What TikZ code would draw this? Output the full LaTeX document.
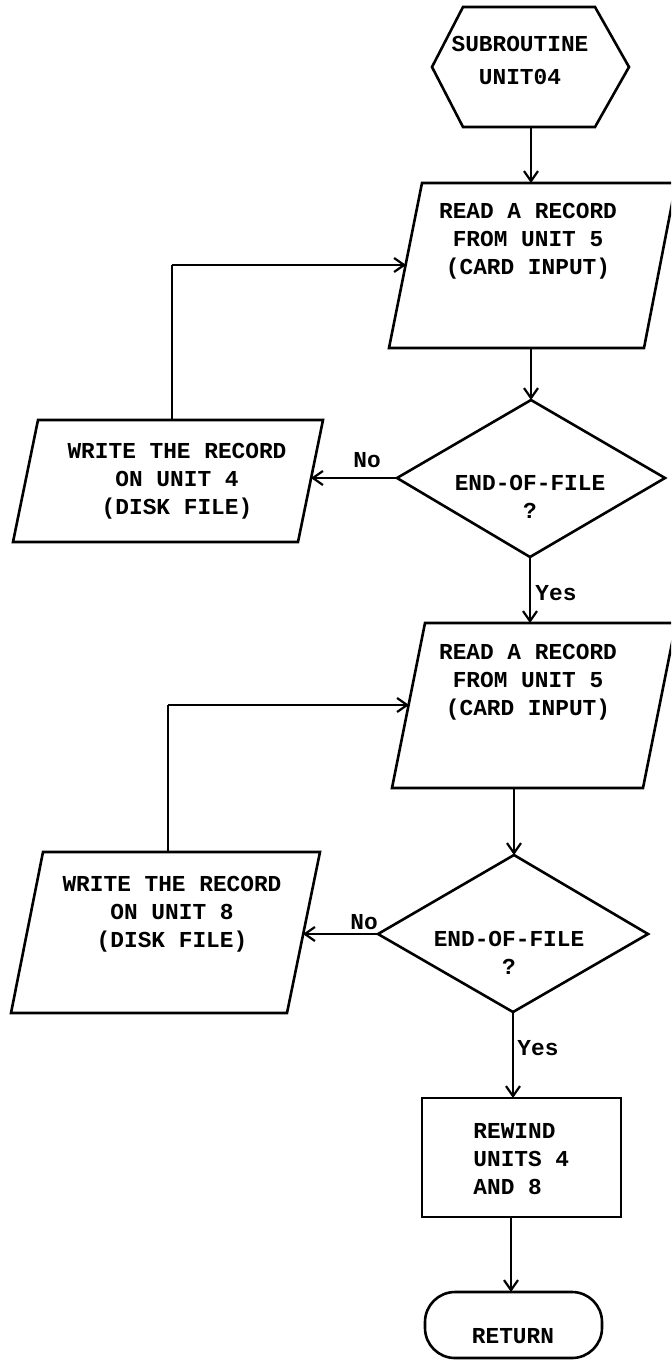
\documentclass[tikz,border=0pt]{standalone}
\usepackage{fontspec}
\setmonofont{Liberation Mono}
\usetikzlibrary{arrows.meta}
\tikzset{
  shp/.style={line width=1.3pt, line join=miter},
  conn/.style={line width=1.1pt, -{Straight Barb[length=5pt,width=7pt,line width=1.1pt]}},
  plainline/.style={line width=1.1pt},
  txt/.style={font=\ttfamily\bfseries\fontsize{11.4}{14}\selectfont, align=center, inner sep=0pt},
  lbl/.style={font=\ttfamily\bfseries\fontsize{11.4}{13}\selectfont, inner sep=0pt},
}
\begin{document}
\begin{tikzpicture}[x=0.5pt,y=-0.5pt]
\useasboundingbox (0,0) rectangle (671,1360);
\clip (0,0) rectangle (671,1360);

% ---- start hexagon
\draw[shp] (463,7) -- (595,7) -- (629,67) -- (595,127) -- (463,127) -- (432,67) -- cycle;
\coordinate (hexB) at (531,127);
\node[txt, font=\ttfamily\bfseries\fontsize{11.4}{16.5}\selectfont] (start) at (520,60) {SUBROUTINE\\UNIT04};

% ---- read box 1
\draw[shp] (422,183) -- (676,183) -- (644,348) -- (389,348) -- cycle;
\coordinate (r1T) at (531,183);
\coordinate (r1B) at (531,348);
\coordinate (r1L) at (406,265);
\node[txt] (read1) at (528,241) {READ A RECORD\\FROM UNIT 5\\(CARD INPUT)};

% ---- decision 1
\draw[shp] (531,400) -- (665,478) -- (530,557) -- (397,478) -- cycle;
\coordinate (d1T) at (531,400);
\coordinate (d1B) at (530,557);
\coordinate (d1L) at (397,478);
\node[txt] (eof1) at (530,497) {END-OF-FILE\\?};

% ---- write box 1
\draw[shp] (38,420) -- (323,420) -- (298,542) -- (13,542) -- cycle;
\coordinate (w1T) at (172,420);
\coordinate (w1R) at (311,478);
\coordinate (loop1) at (172,265);
\node[txt] (write1) at (177,481) {WRITE THE RECORD\\ON UNIT 4\\(DISK FILE)};

% ---- read box 2
\draw[shp] (425,623) -- (676,623) -- (643,788) -- (392,788) -- cycle;
\coordinate (r2T) at (530,623);
\coordinate (r2B) at (514,788);
\coordinate (r2L) at (409,705);
\node[txt] (read2) at (528,682) {READ A RECORD\\FROM UNIT 5\\(CARD INPUT)};

% ---- decision 2
\draw[shp] (514,855) -- (648,934) -- (513,1012) -- (378,934) -- cycle;
\coordinate (d2T) at (514,855);
\coordinate (d2B) at (513,1012);
\coordinate (d2L) at (378,934);
\node[txt] (eof2) at (509,953) {END-OF-FILE\\?};

% ---- write box 2
\draw[shp] (43,852) -- (320,852) -- (287,1013) -- (11,1013) -- cycle;
\coordinate (w2T) at (168,852);
\coordinate (w2R) at (303,934);
\coordinate (loop2) at (168,705);
\node[txt] (write2) at (172,914) {WRITE THE RECORD\\ON UNIT 8\\(DISK FILE)};

% ---- rewind box
\draw[shp] (422,1098) rectangle (621,1217);
\coordinate (rwT) at (513,1098);
\coordinate (rwB) at (511,1217);
\node[txt, align=left, anchor=west] (rewind) at (473,1159) {REWIND\\UNITS 4\\AND 8};

% ---- return terminal
\draw[shp, rounded corners=15pt] (425,1292) rectangle (602,1358);
\coordinate (retT) at (511,1292);
\node[txt] (ret) at (513,1336) {RETURN};

% ---- connectors
\draw[conn] (hexB) -- (r1T);
\draw[conn] (r1B) -- (d1T);
\draw[conn] (d1L) -- (w1R);
\draw[plainline] (w1T) -- (loop1);
\draw[conn] (loop1) -- (r1L);
\draw[conn] (d1B) -- (r2T);
\draw[conn] (r2B) -- (d2T);
\draw[conn] (d2L) -- (w2R);
\draw[plainline] (w2T) -- (loop2);
\draw[conn] (loop2) -- (r2L);
\draw[conn] (d2B) -- (rwT);
\draw[conn] (rwB) -- (retT);

% ---- labels
\node[lbl] (no1) at (367,460) {No};
\node[lbl, anchor=west] (yes1) at (535,593) {Yes};
\node[lbl] (no2) at (364,922) {No};
\node[lbl, anchor=west] (yes2) at (517,1048) {Yes};
\end{tikzpicture}
\end{document}
